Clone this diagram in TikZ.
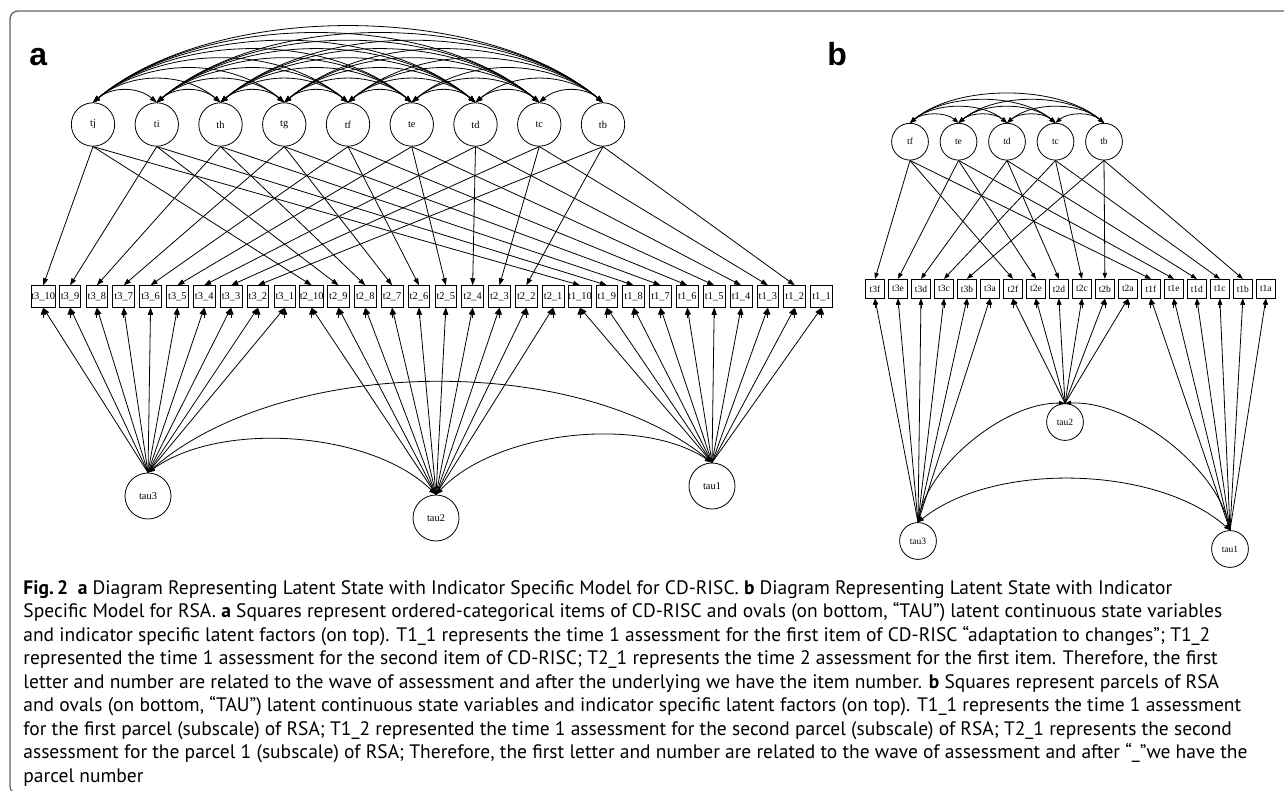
\documentclass[tikz,border=0pt]{standalone}
\usepackage{fontspec}
\setmainfont{Liberation Serif}
\newfontfamily\capfont{PT Sans}
\newfontfamily\labfont{Liberation Sans}
\usetikzlibrary{arrows.meta}

\begin{document}
\begin{tikzpicture}[
	x=1pt, y=-1pt
	,line width=.8pt
	,lat/.style={circle, draw, minimum size=43.4pt, inner sep=0pt, font=\fontsize{10.4}{12}\selectfont}
	,obs/.style={rectangle, draw, minimum width=21.7pt, minimum height=21.7pt, inner sep=0pt, font=\fontsize{10.4}{12}\selectfont}
	,latb/.style={lat, minimum size=36.8pt, font=\fontsize{9.5}{11}\selectfont}
	,obsb/.style={obs, minimum width=19.6pt, minimum height=19pt, font=\fontsize{9.5}{11}\selectfont}
	,tip/.style={-{Triangle[length=7pt,width=5pt]}}
	,tipb/.style={-{Triangle[length=6pt,width=4.4pt]}}
	,cov/.style={{Triangle[length=7pt,width=5pt]}-{Triangle[length=7pt,width=5pt]}}
	,covb/.style={{Triangle[length=6pt,width=4.4pt]}-{Triangle[length=6pt,width=4.4pt]}}
	,panel/.style={anchor=base west, inner sep=0pt, font={\labfont\bfseries\fontsize{32}{32}\selectfont}}
	,frame/.style={draw=black!62, line width=1.3pt, rounded corners=8pt}
]
	\useasboundingbox (0,0) rectangle (1284,791);
	\clip (0,0) rectangle (1284,791);
	\draw[frame] (10,11) rectangle (1320,794);

	\node[panel] (lab-a) at (29,66) {a};
	\node[panel] (lab-b) at (827,66) {b};

	% a: CD-RISC
	\foreach \w in {1,2,3}
		\foreach \i in {1,...,10}
			\node[obs] (a-t\w_\i) at ({43.2+26.84*((3-\w)*10+10-\i)}, 296.5) {t\w\_\i};
	\foreach \i/\l in {2/b,3/c,4/d,5/e,6/f,7/g,8/h,9/i,10/j}
		\node[lat] (a-t\l) at ({93+63.75*(10-\i)}, 124.5) {t\l};
	\node[lat, minimum size=46pt] (a-tau3) at (148,496) {tau3};
	\node[lat, minimum size=46pt] (a-tau2) at (436,518) {tau2};
	\node[lat, minimum size=46pt] (a-tau1) at (712,486) {tau1};

	\foreach \i/\l in {2/b,3/c,4/d,5/e,6/f,7/g,8/h,9/i,10/j}
		\foreach \w in {1,2,3}
			\draw[tip] (a-t\l.south) -- (a-t\w_\i.north);
	\foreach \i/\l in {2/b,3/c,4/d,5/e,6/f,7/g,8/h,9/i,10/j}
		\foreach \j/\m in {2/b,3/c,4/d,5/e,6/f,7/g,8/h,9/i,10/j}
		{
			\ifnum\i>\j
				\pgfmathsetmacro\lo{1-0.03*(\i-\j-1)}
				\draw[cov] (a-t\l.north) to[bend left=40, looseness=\lo] (a-t\m.north);
			\fi
		}
	\foreach \w in {1,2,3}
		\foreach \i in {1,...,10}
		{
			\draw[tip] (a-tau\w.north) -- (a-t\w_\i.south);
			\draw[tip] ([yshift=-10pt]a-t\w_\i.south) -- (a-t\w_\i.south);
		}
	\draw[cov] (a-tau3.north) to[bend left=40, looseness=.8] (a-tau2.north);
	\draw[cov] (a-tau2.north) to[bend left=40, looseness=.8] (a-tau1.north);
	\draw[cov] (a-tau3.north) to[bend left=40, looseness=.8] (a-tau1.north);

	% b: RSA
	\foreach \w in {1,2,3}
		\foreach \i/\l in {1/a,2/b,3/c,4/d,5/e,6/f}
			\node[obsb] (b-t\w\l) at ({875+22.99*((3-\w)*6+6-\i)}, 288.8) {t\w\l};
	\foreach \i/\l in {2/b,3/c,4/d,5/e,6/f}
		\node[latb] (b-t\l) at ({910+48.5*(6-\i)}, 141.7) {t\l};
	\node[latb] (b-tau3) at (918,541) {tau3};
	\node[latb] (b-tau2) at (1065,422) {tau2};
	\node[latb] (b-tau1) at (1230,549) {tau1};

	\foreach \l in {b,c,d,e,f}
		\foreach \w in {1,2,3}
			\draw[tipb] (b-t\l.south) -- (b-t\w\l.north);
	\foreach \i/\l in {2/b,3/c,4/d,5/e,6/f}
		\foreach \j/\m in {2/b,3/c,4/d,5/e,6/f}
		{
			\ifnum\i>\j
				\pgfmathsetmacro\lo{.9-0.035*(\i-\j-1)}
				\draw[covb] (b-t\l.north) to[bend left=40, looseness=\lo] (b-t\m.north);
			\fi
		}
	\foreach \w in {1,2,3}
		\foreach \l in {a,b,c,d,e,f}
		{
			\draw[tipb] (b-tau\w.north) -- (b-t\w\l.south);
			\draw[tipb] ([yshift=-9pt]b-t\w\l.south) -- (b-t\w\l.south);
		}
	\draw[covb] (b-tau3.north) to[bend left=40, looseness=.8] (b-tau2.north);
	\draw[covb] (b-tau2.north) to[bend left=40, looseness=.8] (b-tau1.north);
	\draw[covb] (b-tau3.north) to[bend left=40, looseness=.8] (b-tau1.north);

	% caption (base = last line)
	\node[anchor=base west, inner sep=0pt, align=left, font={\capfont\fontsize{19.5}{23.5}\selectfont}] (caption) at (23,782) {%
		{\bfseries Fig.\,2}\enspace{\bfseries a} Diagram Representing Latent State with Indicator Specific Model for CD-RISC. {\bfseries b} Diagram Representing Latent State with Indicator\\
		Specific Model for RSA. {\bfseries a} Squares represent ordered-categorical items of CD-RISC and ovals (on bottom, “TAU”) latent continuous state variables\\
		and indicator specific latent factors (on top). T1\_1 represents the time 1 assessment for the first item of CD-RISC “adaptation to changes”; T1\_2\\
		represented the time 1 assessment for the second item of CD-RISC; T2\_1 represents the time 2 assessment for the first item. Therefore, the first\\
		letter and number are related to the wave of assessment and after the underlying we have the item number. {\bfseries b} Squares represent parcels of RSA\\
		and ovals (on bottom, “TAU”) latent continuous state variables and indicator specific latent factors (on top). T1\_1 represents the time 1 assessment\\
		for the first parcel (subscale) of RSA; T1\_2 represented the time 1 assessment for the second parcel (subscale) of RSA; T2\_1 represents the second\\
		assessment for the parcel 1 (subscale) of RSA; Therefore, the first letter and number are related to the wave of assessment and after “\_”we have the\\
		parcel number};
\end{tikzpicture}
\end{document}
